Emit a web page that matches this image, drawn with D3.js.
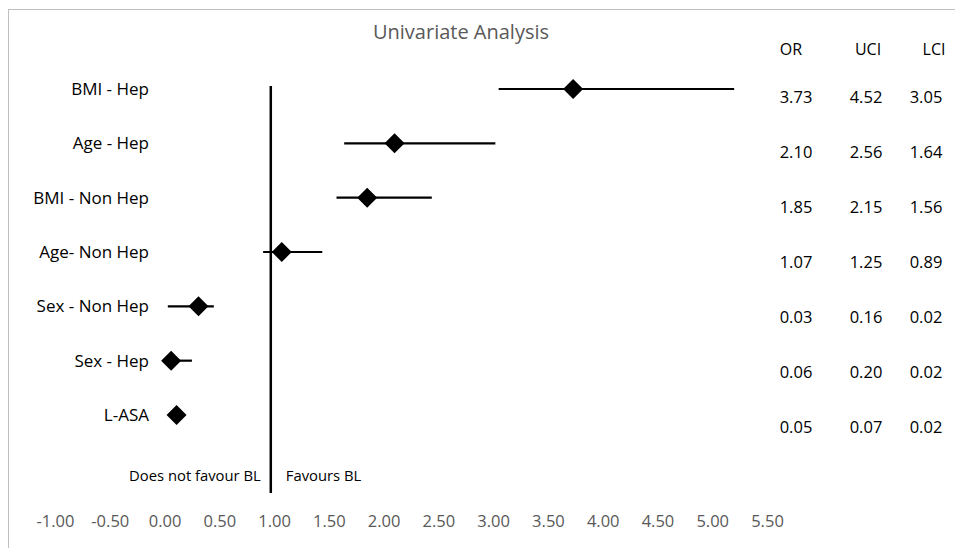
<!DOCTYPE html>
<html>
<head>
<meta charset="utf-8">
<script src="https://cdn.jsdelivr.net/npm/d3@7"></script>
<style>
  body { margin: 0; background: #fff; }
  svg text { font-family: "Open Sans", Lato, sans-serif; }
</style>
</head>
<body>
<div id="chart"></div>
<script>
// Dati
const categories = ["BMI - Hep", "Age - Hep", "BMI - Non Hep", "Age- Non Hep", "Sex - Non Hep", "Sex - Hep", "L-ASA"];
const pointValues = [3.73, 2.10, 1.85, 1.07, 0.31, 0.06, 0.11];
const lowValues = [3.05, 1.64, 1.57, 0.90, 0.03, 0.02, 0.07];
const highValues = [5.20, 3.02, 2.44, 1.44, 0.45, 0.25, 0.15];
const tableColumns = ["OR", "UCI", "LCI"];
const orText = ["3.73", "2.10", "1.85", "1.07", "0.03", "0.06", "0.05"];
const uciText = ["4.52", "2.56", "2.15", "1.25", "0.16", "0.20", "0.07"];
const lciText = ["3.05", "1.64", "1.56", "0.89", "0.02", "0.02", "0.02"];
const tickValues = [-1, -0.5, 0, 0.5, 1, 1.5, 2, 2.5, 3, 3.5, 4, 4.5, 5, 5.5];
const refValue = 0.97;

const width = 955;
const height = 548;

const svg = d3.select("#chart")
  .append("svg")
  .attr("width", width)
  .attr("height", height);

// Cornice
svg.append("rect")
  .attr("x", 8.5).attr("y", 9.5)
  .attr("width", 960).attr("height", 560)
  .attr("fill", "none")
  .attr("stroke", "#bfbfbf")
  .attr("stroke-width", 1);

// Scale
const x = d3.scaleLinear().domain([-1, 5.5]).range([55, 767]);
const y = d3.scalePoint().domain(categories).range([89, 415]);
const yTable = d3.scalePoint().domain(categories).range([97, 427]);

// Titolo
svg.append("text")
  .attr("x", 461).attr("y", 32)
  .attr("dy", "0.35em")
  .attr("text-anchor", "middle")
  .attr("font-size", 20)
  .attr("fill", "#595959")
  .text("Univariate Analysis");

// Linea di riferimento
svg.append("line")
  .attr("x1", x(refValue)).attr("x2", x(refValue))
  .attr("y1", 86).attr("y2", 493)
  .attr("stroke", "#000")
  .attr("stroke-width", 2.5);

svg.append("text")
  .attr("x", x(refValue) - 10).attr("y", 476)
  .attr("dy", "0.35em")
  .attr("text-anchor", "end")
  .attr("font-size", 14.8)
  .attr("fill", "#000")
  .text("Does not favour BL");

svg.append("text")
  .attr("x", x(refValue) + 15).attr("y", 476)
  .attr("dy", "0.35em")
  .attr("font-size", 14.8)
  .attr("fill", "#000")
  .text("Favours BL");

// Etichette categorie
svg.selectAll("text.cat")
  .data(categories)
  .enter().append("text")
  .attr("class", "cat")
  .attr("x", 149)
  .attr("y", d => y(d))
  .attr("dy", "0.35em")
  .attr("text-anchor", "end")
  .attr("font-size", 17)
  .attr("fill", "#000")
  .text(d => d);

// Barre di errore
svg.selectAll("line.err")
  .data(categories)
  .enter().append("line")
  .attr("class", "err")
  .attr("x1", (d, i) => x(lowValues[i]))
  .attr("x2", (d, i) => x(highValues[i]))
  .attr("y1", d => y(d))
  .attr("y2", d => y(d))
  .attr("stroke", "#000")
  .attr("stroke-width", 2.2);

// Rombi
svg.selectAll("path.pt")
  .data(categories)
  .enter().append("path")
  .attr("class", "pt")
  .attr("d", d3.symbol(d3.symbolSquare, 200))
  .attr("transform", (d, i) => `translate(${x(pointValues[i])},${y(d)}) rotate(45)`)
  .attr("fill", "#000");

// Tabella OR / UCI / LCI
const colX = [796, 866, 926];
const colHeadX = [791, 868, 934];
svg.selectAll("text.head")
  .data(tableColumns)
  .enter().append("text")
  .attr("class", "head")
  .attr("x", (d, i) => colHeadX[i])
  .attr("y", 49)
  .attr("dy", "0.35em")
  .attr("text-anchor", "middle")
  .attr("font-size", 16)
  .attr("fill", "#000")
  .text(d => d);

[orText, uciText, lciText].forEach((col, c) => {
  svg.selectAll(`text.col${c}`)
    .data(col)
    .enter().append("text")
    .attr("class", `col${c}`)
    .attr("x", colX[c])
    .attr("y", (d, i) => yTable(categories[i]))
    .attr("dy", "0.35em")
    .attr("text-anchor", "middle")
    .attr("font-size", 16.5)
    .attr("fill", "#000")
    .text(d => d);
});

// Asse X (solo etichette)
const axis = svg.append("g")
  .attr("transform", "translate(0, 512)")
  .call(d3.axisBottom(x).tickValues(tickValues).tickSize(0).tickFormat(d3.format(".2f")));
axis.select(".domain").remove();
axis.selectAll("text")
  .attr("font-family", "'Open Sans', Lato, sans-serif")
  .attr("font-size", 16.5)
  .attr("fill", "#595959")
  .text(d => d < 0 ? "-" + d3.format(".2f")(-d) : d3.format(".2f")(d));
</script>
</body>
</html>
